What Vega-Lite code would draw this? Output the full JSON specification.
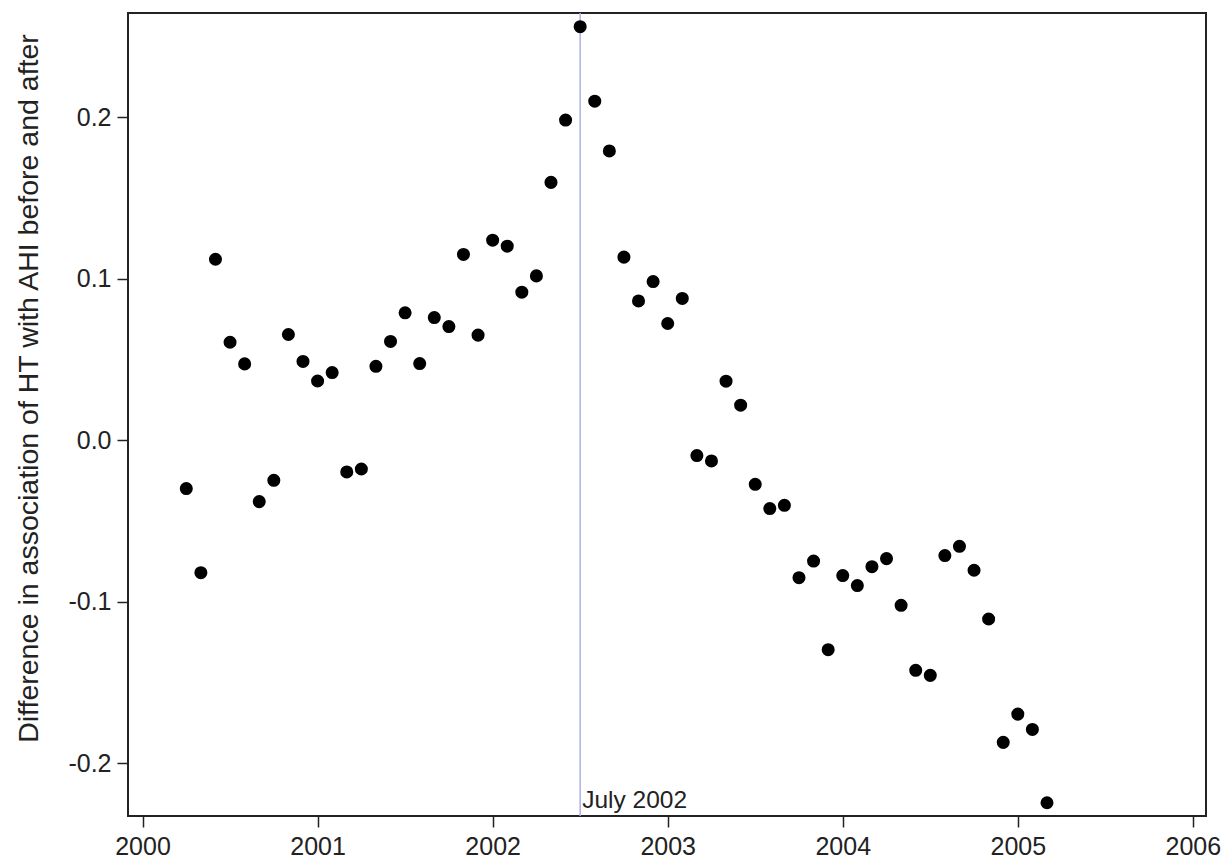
{
  "$schema": "https://vega.github.io/schema/vega-lite/v6.json",
  "autosize": {"type": "none"},
  "width": 1078,
  "height": 803,
  "padding": {"left": 128, "top": 13, "right": 19, "bottom": 47},
  "background": "white",
  "datasets": {
    "monthly": [
      {"t": 2000.25, "v": -0.0299},
      {"t": 2000.3333, "v": -0.0820},
      {"t": 2000.4167, "v": 0.1121},
      {"t": 2000.5, "v": 0.0607},
      {"t": 2000.5833, "v": 0.0473},
      {"t": 2000.6667, "v": -0.0380},
      {"t": 2000.75, "v": -0.0248},
      {"t": 2000.8333, "v": 0.0655},
      {"t": 2000.9167, "v": 0.0488},
      {"t": 2001.0, "v": 0.0367},
      {"t": 2001.0833, "v": 0.0419},
      {"t": 2001.1667, "v": -0.0196},
      {"t": 2001.25, "v": -0.0178},
      {"t": 2001.3333, "v": 0.0458},
      {"t": 2001.4167, "v": 0.0612},
      {"t": 2001.5, "v": 0.0789},
      {"t": 2001.5833, "v": 0.0475},
      {"t": 2001.6667, "v": 0.0760},
      {"t": 2001.75, "v": 0.0704},
      {"t": 2001.8333, "v": 0.1151},
      {"t": 2001.9167, "v": 0.0651},
      {"t": 2002.0, "v": 0.1239},
      {"t": 2002.0833, "v": 0.1202},
      {"t": 2002.1667, "v": 0.0917},
      {"t": 2002.25, "v": 0.1018},
      {"t": 2002.3333, "v": 0.1597},
      {"t": 2002.4167, "v": 0.1983},
      {"t": 2002.5, "v": 0.2561},
      {"t": 2002.5833, "v": 0.2100},
      {"t": 2002.6667, "v": 0.1792},
      {"t": 2002.75, "v": 0.1134},
      {"t": 2002.8333, "v": 0.0863},
      {"t": 2002.9167, "v": 0.0983},
      {"t": 2003.0, "v": 0.0723},
      {"t": 2003.0833, "v": 0.0878},
      {"t": 2003.1667, "v": -0.0095},
      {"t": 2003.25, "v": -0.0128},
      {"t": 2003.3333, "v": 0.0366},
      {"t": 2003.4167, "v": 0.0217},
      {"t": 2003.5, "v": -0.0273},
      {"t": 2003.5833, "v": -0.0423},
      {"t": 2003.6667, "v": -0.0403},
      {"t": 2003.75, "v": -0.0851},
      {"t": 2003.8333, "v": -0.0748},
      {"t": 2003.9167, "v": -0.1297},
      {"t": 2004.0, "v": -0.0838},
      {"t": 2004.0833, "v": -0.0900},
      {"t": 2004.1667, "v": -0.0783},
      {"t": 2004.25, "v": -0.0733},
      {"t": 2004.3333, "v": -0.1022},
      {"t": 2004.4167, "v": -0.1425},
      {"t": 2004.5, "v": -0.1456},
      {"t": 2004.5833, "v": -0.0714},
      {"t": 2004.6667, "v": -0.0657},
      {"t": 2004.75, "v": -0.0805},
      {"t": 2004.8333, "v": -0.1107},
      {"t": 2004.9167, "v": -0.1871},
      {"t": 2005.0, "v": -0.1696},
      {"t": 2005.0833, "v": -0.1791},
      {"t": 2005.1667, "v": -0.2245}
    ],
    "marker": [
      {"t": 2002.5, "label": "July 2002"}
    ]
  },
  "layer": [
    {
      "data": {"name": "marker"},
      "mark": {"type": "rule", "color": "#aeb0e4", "strokeWidth": 1.5},
      "encoding": {
        "x": {"field": "t", "type": "quantitative"}
      }
    },
    {
      "data": {"name": "marker"},
      "mark": {"type": "text", "y": "height", "align": "left", "baseline": "bottom", "dx": 2, "dy": -3, "fontSize": 24.5, "font": "Liberation Sans", "color": "#222222"},
      "encoding": {
        "x": {"field": "t", "type": "quantitative"},
        "text": {"field": "label"}
      }
    },
    {
      "data": {"name": "monthly"},
      "mark": {"type": "circle", "size": 170, "color": "black", "opacity": 1},
      "encoding": {
        "x": {
          "field": "t",
          "type": "quantitative",
          "scale": {"domain": [1999.917, 2006.075], "nice": false, "zero": false},
          "axis": {
            "values": [2000, 2001, 2002, 2003, 2004, 2005, 2006],
            "format": "d",
            "title": null,
            "grid": false,
            "domain": false,
            "tickSize": 11,
            "tickWidth": 1.5,
            "tickColor": "#222222",
            "labelPadding": 7,
            "labelFontSize": 25,
            "labelFont": "Liberation Sans",
            "labelColor": "#222222"
          }
        },
        "y": {
          "field": "v",
          "type": "quantitative",
          "scale": {"domain": [-0.2327, 0.2646], "nice": false, "zero": false},
          "axis": {
            "values": [-0.2, -0.1, 0, 0.1, 0.2],
            "labelExpr": "replace(format(datum.value, '.1f'), '\u2212', '-')",
            "title": "Difference in association of HT with AHI before and after",
            "titleFont": "Liberation Sans",
            "titleFontWeight": "normal",
            "titleFontSize": 28.5,
            "titleColor": "#222222",
            "titleAngle": -90,
            "titleX": -100,
            "titleY": 375,
            "titleAlign": "center",
            "titleBaseline": "middle",
            "grid": false,
            "domain": false,
            "tickSize": 11,
            "tickWidth": 1.5,
            "tickColor": "#222222",
            "labelPadding": 6,
            "labelFontSize": 25,
            "labelFont": "Liberation Sans",
            "labelColor": "#222222"
          }
        }
      }
    }
  ],
  "config": {
    "view": {"stroke": "#222222", "strokeWidth": 2},
    "font": "Liberation Sans"
  }
}
